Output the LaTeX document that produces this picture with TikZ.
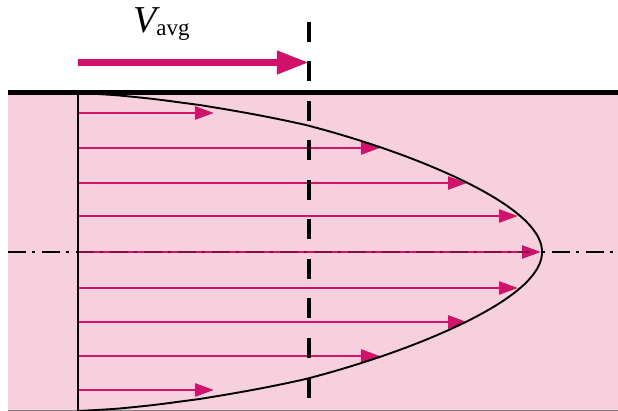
\documentclass[tikz,border=0pt]{standalone}
\usepackage{fontspec}
\setmainfont{Liberation Serif}
\usetikzlibrary{arrows.meta}
\definecolor{pinkbg}{RGB}{246,208,221}
\definecolor{mag}{RGB}{209,18,106}
\begin{document}
\begin{tikzpicture}[x=1pt,y=-1pt,
  flow/.style={mag, line width=2.6pt, -{Triangle[length=19pt,width=13pt]}},
  bigflow/.style={mag, line width=7pt, -{Triangle[length=32pt,width=22pt]}},
  centerline/.style={black, line width=2pt, dash pattern=on 18pt off 6pt on 3pt off 7pt},
  avgline/.style={black, line width=4pt, dash pattern=on 20pt off 19.5pt},
  wallline/.style={black, line width=5pt},
  profile/.style={black, line width=1.9pt}]
\useasboundingbox (0,0) rectangle (618,411);
% flow region
\fill[pinkbg] (8,93) rectangle (618,410);
\draw[gray, line width=1pt] (8,410.5) -- (618,410.5);
% coordinates
\coordinate (wallT) at (78,93);
\coordinate (wallB) at (78,411);
\coordinate (clL) at (8,252);
\coordinate (clR) at (618,252);
\coordinate (avgT) at (309,22);
\coordinate (avgB) at (309,411);
% center line
\draw[centerline] (clL) -- (clR);
% velocity arrows
\foreach \y/\x in {113/214,148/380,183/467,216/518,288/518,322/467,356/380,390/214}
  \draw[flow] (78,\y) -- (\x,\y);
\draw[flow] (78,252) -- (541,252);
\draw[centerline, opacity=0.35] (clL) -- (530,252);
% velocity profile
\draw[profile] plot[domain=-1:1, samples=161, smooth] ({78+464*(1.000001-\x*\x)^(0.7+0.3*max(0,1-abs(\x)/0.8))}, {252-159*\x});
% wall reference line
\draw[black, line width=1.8pt] (wallT) -- (wallB);
% average velocity line
\draw[avgline] (avgT) -- (avgB);
% top wall
\draw[wallline] (8,93) -- (618,93);
% V_avg arrow
\coordinate (vs) at (78,62.5);
\coordinate (ve) at (309,62.5);
\draw[bigflow] (vs) -- (ve);
\node[anchor=base west, inner sep=0pt] (vlabel) at (133,33) {\fontsize{38}{38}\selectfont\itshape V\upshape\raisebox{-3pt}{\fontsize{23}{23}\selectfont avg}};
\end{tikzpicture}
\end{document}
